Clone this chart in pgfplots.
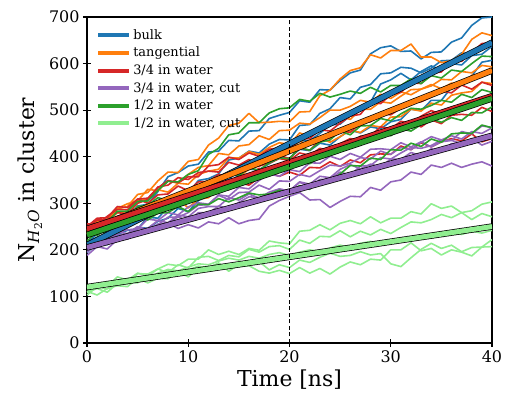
\documentclass[border=0pt]{standalone}
\usepackage{fontspec}
\setmainfont{DejaVu Serif}
\usepackage{pgfplots}
\usepackage{pgfplotstable}
\pgfplotsset{compat=1.18}
\definecolor{cbulk}{HTML}{1F77B4}
\definecolor{ctang}{HTML}{FF7F0E}
\definecolor{cred}{HTML}{D62728}
\definecolor{cpurp}{HTML}{9467BD}
\definecolor{cgreen}{HTML}{2CA02C}
\definecolor{clight}{HTML}{90EE90}

% bulk
\pgfplotstableread{
t a b c d
0 215 208 194 216
1 234 227 215 207
2 242 222 211 224
3 266 242 233 230
4 267 248 242 229
5 294 275 245 249
6 298 276 270 246
7 325 299 268 261
8 357 299 291 268
9 366 321 289 289
10 380 321 312 282
11 384 349 323 306
12 410 353 328 315
13 412 363 354 336
14 435 393 350 340
15 434 397 373 362
16 455 412 380 373
17 456 408 397 372
18 482 427 390 385
19 489 437 414 398
20 495 436 417 397
21 520 467 434 416
22 517 469 435 413
23 544 493 450 429
24 543 503 468 425
25 564 527 470 443
26 580 524 488 457
27 586 549 508 451
28 621 555 517 464
29 634 578 556 460
30 638 580 565 475
31 626 592 579 480
32 627 590 565 502
33 610 580 583 499
34 624 590 595 521
35 625 606 586 521
36 646 607 600 549
37 655 623 597 561
38 682 620 617 573
39 698 642 620 603
40 700 638 637 607
}\bulk

% tangential
\pgfplotstableread{
t a b c d
0 235 243 239 236
1 256 261 265 235
2 262 261 266 257
3 288 280 289 267
4 293 282 299 266
5 319 305 305 289
6 323 310 330 284
7 348 329 327 299
8 367 324 348 298
9 366 343 343 309
10 390 341 362 290
11 394 362 377 309
12 425 369 381 312
13 440 373 407 334
14 467 398 404 335
15 472 397 423 357
16 493 411 426 373
17 473 405 445 380
18 474 420 437 392
19 476 430 456 411
20 475 426 457 417
21 496 451 472 433
22 497 444 470 425
23 531 465 484 440
24 543 468 500 431
25 567 487 500 443
26 585 480 508 457
27 591 502 521 452
28 619 502 517 467
29 612 518 534 464
30 628 515 525 485
31 628 530 539 486
32 642 544 533 502
33 614 545 545 498
34 614 552 555 515
35 602 566 546 511
36 606 565 558 532
37 620 583 554 537
38 652 580 575 540
39 666 596 573 560
40 660 593 587 557
}\tang

% 3/4 in water
\pgfplotstableread{
t a b c d e
0 250 248 234 256 243
1 268 264 253 255 257
2 269 264 249 272 250
3 293 280 272 287 266
4 291 277 279 286 267
5 309 300 280 309 281
6 311 308 300 300 277
7 333 335 297 318 290
8 349 339 314 320 303
9 344 355 308 337 300
10 357 351 322 327 305
11 357 366 333 346 318
12 380 369 331 347 315
13 383 367 351 362 333
14 399 388 344 357 329
15 394 382 358 372 344
16 408 394 360 383 339
17 401 385 375 380 355
18 416 397 366 386 365
19 419 403 384 396 358
20 415 396 382 392 367
21 438 419 398 408 360
22 439 414 393 403 377
23 458 435 407 418 376
24 455 440 420 413 389
25 472 457 420 428 379
26 487 452 428 439 393
27 491 472 444 434 387
28 517 475 445 446 404
29 514 492 464 442 406
30 533 490 460 460 405
31 538 504 476 458 423
32 559 518 471 473 415
33 557 518 487 464 430
34 579 528 499 479 421
35 582 541 491 471 432
36 604 537 502 489 439
37 605 554 498 491 434
38 624 545 515 489 449
39 643 560 513 506 432
40 645 553 527 497 439
}\red

% 3/4 in water, cut
\pgfplotstableread{
t a b c d e
0 195 203 204 211 188
1 214 219 221 205 207
2 217 214 217 222 202
3 238 227 238 233 222
4 235 224 243 231 223
5 250 245 245 249 241
6 243 246 266 240 239
7 255 263 263 255 254
8 257 258 280 256 270
9 246 275 275 271 270
10 254 271 292 262 280
11 247 289 301 280 296
12 260 293 298 279 297
13 256 293 317 294 318
14 269 312 308 289 315
15 256 307 323 302 334
16 263 320 324 314 331
17 266 311 339 312 349
18 294 324 330 318 363
19 306 331 348 330 358
20 315 326 347 327 372
21 323 345 362 346 368
22 307 336 357 341 387
23 308 351 370 358 386
24 291 352 382 355 401
25 304 367 380 373 394
26 315 360 386 383 407
27 314 380 398 374 399
28 334 381 395 384 416
29 328 398 412 378 417
30 346 395 405 395 415
31 350 408 420 394 430
32 367 420 415 409 421
33 362 418 431 402 432
34 382 424 443 417 421
35 377 436 436 411 432
36 386 435 445 428 435
37 377 454 438 429 428
38 384 449 454 427 439
39 389 466 450 444 425
40 380 463 462 437 433
}\purp

% 1/2 in water
\pgfplotstableread{
t a b c d
0 235 233 219 236
1 254 249 239 231
2 259 248 236 246
3 283 267 262 255
4 283 270 271 254
5 304 293 275 274
6 305 296 298 264
7 328 312 293 279
8 347 306 311 280
9 346 323 303 293
10 362 319 320 282
11 370 339 330 298
12 405 343 328 297
13 418 345 347 310
14 447 366 339 303
15 451 359 353 312
16 473 376 354 322
17 473 371 369 318
18 494 387 358 320
19 503 397 374 328
20 505 396 372 322
21 523 419 388 338
22 519 414 385 330
23 536 431 400 349
24 528 436 413 345
25 534 455 412 363
26 541 447 420 381
27 536 466 434 380
28 549 467 432 397
29 539 482 450 394
30 553 477 445 415
31 553 492 460 414
32 567 504 455 429
33 557 502 469 422
34 574 510 481 438
35 569 521 474 431
36 586 517 484 449
37 583 534 478 451
38 600 527 495 450
39 616 544 494 468
40 615 538 507 462
}\green

% 1/2 in water, cut
\pgfplotstableread{
t a b c d e
0 110 103 109 111 118
1 122 121 117 103 125
2 122 116 109 117 122
3 142 128 128 123 134
4 135 127 131 121 138
5 150 149 129 139 142
6 143 148 148 129 140
7 159 159 143 139 150
8 169 151 156 138 158
9 166 168 145 153 155
10 180 161 157 142 163
11 180 184 165 160 170
12 200 186 161 157 168
13 190 177 172 170 176
14 197 188 154 160 182
15 190 185 169 164 178
16 203 201 168 166 186
17 199 195 175 154 182
18 219 207 157 150 190
19 215 209 168 156 194
20 213 201 162 149 188
21 240 221 178 162 195
22 242 214 173 150 200
23 254 229 184 160 196
24 243 228 193 148 204
25 257 241 186 163 210
26 263 228 188 174 205
27 256 240 196 168 214
28 271 232 189 180 218
29 258 244 192 178 212
30 268 235 170 200 220
31 268 248 164 200 226
32 282 260 183 215 222
33 277 258 201 198 230
34 299 265 214 203 226
35 289 276 203 189 232
36 294 269 210 200 238
37 280 280 196 195 233
38 284 265 205 187 240
39 298 278 206 206 236
40 303 271 222 207 242
}\light

\begin{document}
\begin{tikzpicture}
\begin{axis}[
  scale only axis, width=405bp, height=326bp,
  xmin=0, xmax=40, ymin=0, ymax=700,
  xtick={0,10,20,30,40}, ytick={0,100,...,700},
  tick pos=left, tick align=center, major tick length=8bp,
  every tick/.style={black, line width=1.1bp},
  axis line style={black, line width=1.1bp},
  /pgf/number format/assume math mode=true,
  tick label style={font=\fontsize{16}{19}\selectfont},
  label style={font=\fontsize{22}{26}\selectfont},
  xlabel={Time [ns]},
  ylabel={N\textsubscript{\itshape H\textsubscript{\upshape 2}O} in cluster},
  legend style={at={(0.015,0.975)}, anchor=north west, draw=none, fill=none,
    font=\fontsize{13}{15}\selectfont, row sep=2.5bp},
  legend cell align=left,
  legend image code/.code={\draw[#1] (0bp,0bp) -- (31bp,0bp);},
  every axis plot/.append style={line join=round},
]
\addlegendimage{cbulk, line width=4bp}
\addlegendentry{bulk}
\addlegendimage{ctang, line width=4bp}
\addlegendentry{tangential}
\addlegendimage{cred, line width=4bp}
\addlegendentry{3/4 in water}
\addlegendimage{cpurp, line width=4bp}
\addlegendentry{3/4 in water, cut}
\addlegendimage{cgreen, line width=4bp}
\addlegendentry{1/2 in water}
\addlegendimage{clight, line width=4bp}
\addlegendentry{1/2 in water, cut}

\foreach \c in {a,b,c,d} {
  \addplot[cbulk, line width=1.6bp, forget plot] table[x=t, y=\c] {\bulk};
}
\foreach \c in {a,b,c,d} {
  \addplot[ctang, line width=1.6bp, forget plot] table[x=t, y=\c] {\tang};
}
\foreach \c in {a,b,c,d,e} {
  \addplot[cred, line width=1.6bp, forget plot] table[x=t, y=\c] {\red};
}
\foreach \c in {a,b,c,d,e} {
  \addplot[cpurp, line width=1.6bp, forget plot] table[x=t, y=\c] {\purp};
}
\foreach \c in {a,b,c,d} {
  \addplot[cgreen, line width=1.6bp, forget plot] table[x=t, y=\c] {\green};
}
\foreach \c in {a,b,c,d,e} {
  \addplot[clight, line width=1.6bp, forget plot] table[x=t, y=\c] {\light};
}

% linear fits
\addplot[black, line width=6.4bp, forget plot] coordinates {(0,210) (40,645)};
\addplot[cbulk, line width=5bp, forget plot] coordinates {(0,210) (40,645)};
\addplot[black, line width=6.4bp, forget plot] coordinates {(0,240) (40,585)};
\addplot[ctang, line width=5bp, forget plot] coordinates {(0,240) (40,585)};
\addplot[black, line width=6.4bp, forget plot] coordinates {(0,245) (40,530)};
\addplot[cred, line width=5bp, forget plot] coordinates {(0,245) (40,530)};
\addplot[black, line width=6.4bp, forget plot] coordinates {(0,205) (40,445)};
\addplot[cpurp, line width=5bp, forget plot] coordinates {(0,205) (40,445)};
\addplot[black, line width=6.4bp, forget plot] coordinates {(0,232) (40,525)};
\addplot[cgreen, line width=5bp, forget plot] coordinates {(0,232) (40,525)};
\addplot[black, line width=6.4bp, forget plot] coordinates {(0,120) (40,250)};
\addplot[clight, line width=5bp, forget plot] coordinates {(0,120) (40,250)};

\addplot[black, line width=1.1bp, dash pattern=on 4bp off 2.5bp, forget plot]
  coordinates {(20,0) (20,700)};
\end{axis}
\path ([shift={(-87bp,-57bp)}]current axis.south west) rectangle
      ([shift={(14bp,17bp)}]current axis.north east);
\end{tikzpicture}
\end{document}
